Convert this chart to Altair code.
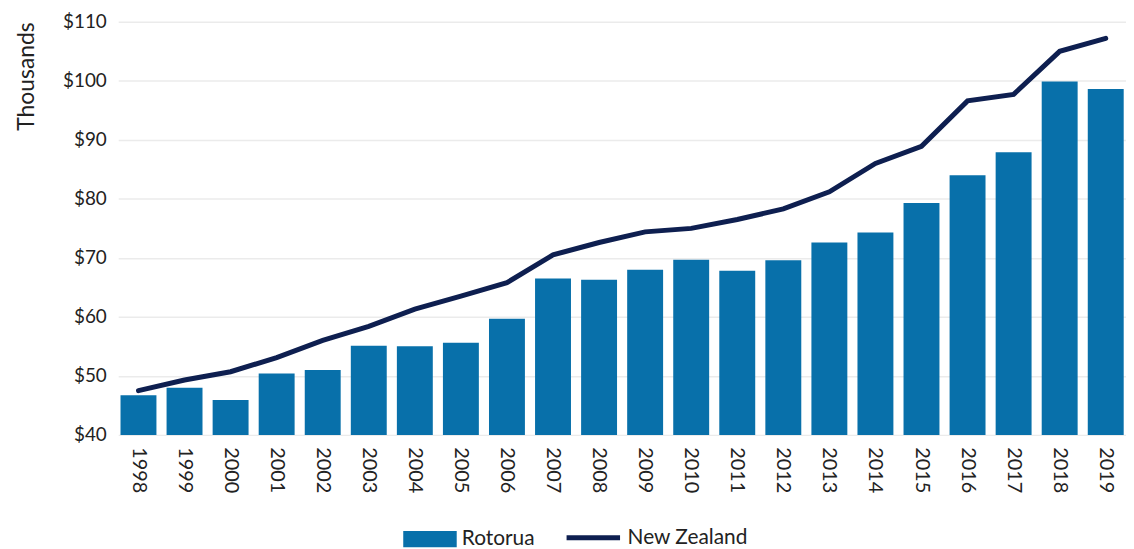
import altair as alt
import pandas as pd

years = [str(y) for y in range(1998, 2020)]
rotorua = [46.7, 48.0, 45.9, 50.4, 51.0, 55.1, 55.0, 55.6, 59.7, 66.5, 66.3,
           68.0, 69.7, 67.8, 69.6, 72.6, 74.3, 79.3, 84.0, 87.9, 99.9, 98.6]
new_zealand = [47.5, 49.3, 50.7, 53.1, 56.0, 58.4, 61.3, 63.5, 65.8, 70.5, 72.6,
               74.4, 75.0, 76.5, 78.3, 81.2, 86.0, 88.9, 96.6, 97.7, 105.0, 107.2]
y_ticks = [40, 50, 60, 70, 80, 90, 100, 110]

df = pd.DataFrame({
    "Year": years,
    "Rotorua": rotorua,
    "New Zealand": new_zealand,
    "s1": ["Rotorua"] * len(years),
    "s2": ["New Zealand"] * len(years),
})

FONT = "Lato"
BAR = "#0870AA"
LINE = "#0E1F50"
TXT = "#222222"
H = 416

x = alt.X("Year:N", title=None, sort=years,
          scale=alt.Scale(paddingInner=0.22, paddingOuter=0.05),
          axis=alt.Axis(labelAngle=90, labelAlign="left", labelBaseline="middle",
                        labelFontSize=20, labelFont=FONT, labelColor=TXT,
                        labelPadding=12, ticks=False, domain=False, grid=False))

y_scale = alt.Scale(domain=[40, 110], nice=False, zero=False)
y_axis = alt.Axis(values=y_ticks, labelExpr="'$' + datum.value", title="Thousands",
                  titleAnchor="end", titleFontSize=23, titleFont=FONT,
                  titleFontWeight="normal", titleColor=TXT, titlePadding=24,
                  labelFontSize=19, labelFont=FONT, labelColor=TXT,
                  labelPadding=12, ticks=False, domain=False,
                  grid=True, gridColor="#ebebeb", gridWidth=1.5)

bars = alt.Chart(df).mark_bar(clip=True).encode(
    x=x,
    y=alt.Y("Rotorua:Q", scale=y_scale, axis=y_axis),
    y2=alt.value(H),
    color=alt.Color("s1:N", scale=alt.Scale(domain=["Rotorua"], range=[BAR]),
                    legend=alt.Legend(title=None, orient="none", legendX=287, legendY=494,
                                      symbolType="M-1,-0.3H1V0.3H-1Z",
                                      symbolSize=2900, symbolStrokeWidth=0,
                                      labelFontSize=21, labelFont=FONT,
                                      labelColor=TXT, labelOffset=5)),
)

line = alt.Chart(df).mark_line(strokeWidth=5, strokeCap="round").encode(
    x=alt.X("Year:N", sort=years),
    y=alt.Y("New Zealand:Q", scale=y_scale),
    stroke=alt.Stroke("s2:N", scale=alt.Scale(domain=["New Zealand"], range=[LINE]),
                      legend=alt.Legend(title=None, orient="none", legendX=449, legendY=490,
                                        symbolType="M-1,0H1", symbolSize=2900,
                                        symbolStrokeWidth=5,
                                        labelFontSize=21, labelFont=FONT,
                                        labelColor=TXT, labelOffset=5)),
)

chart = alt.layer(bars, line).resolve_scale(color="independent", stroke="independent").properties(
    width=1015, height=H,
    autosize=alt.AutoSizeParams(type="none"),
    padding={"left": 111, "top": 12, "right": 0, "bottom": 113},
).configure_view(stroke=None)

chart.save("out.html", embed_options={"renderer": "svg", "actions": False})
